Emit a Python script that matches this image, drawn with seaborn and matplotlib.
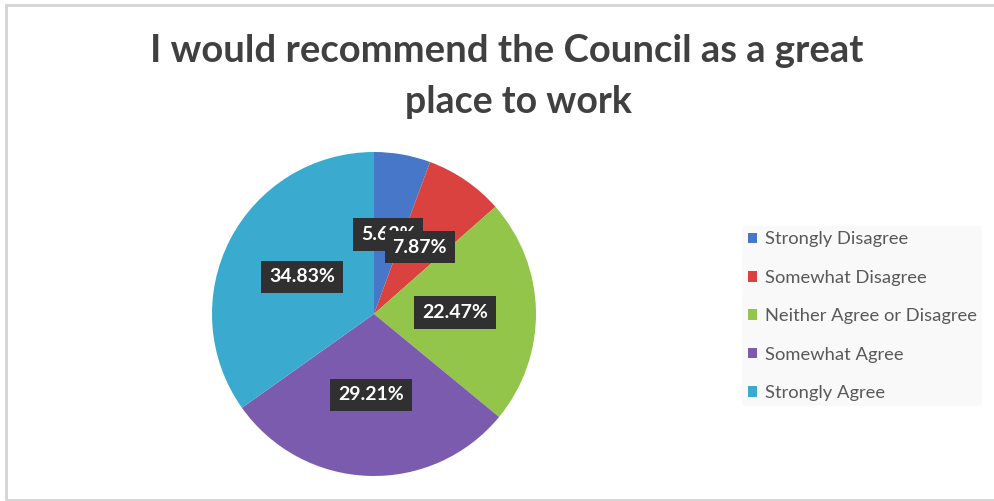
import matplotlib
matplotlib.use("Agg")
import matplotlib.pyplot as plt
from matplotlib.patches import Patch, Rectangle
import seaborn as sns

# Survey responses
categories = ["Strongly Disagree", "Somewhat Disagree", "Neither Agree or Disagree",
              "Somewhat Agree", "Strongly Agree"]
shares = [5.62, 7.87, 22.47, 29.21, 34.83]
slice_colors = ["#4677C8", "#D9423F", "#93C54B", "#7B5BAE", "#3AAACF"]
title_lines = ["I would recommend the Council as a great", "place to work"]

sns.set_theme(style="white")
plt.rcParams["font.family"] = ["Lato", "DejaVu Sans"]
palette = sns.color_palette(slice_colors)

W, H = 994, 501
fig = plt.figure(figsize=(W / 100, H / 100), dpi=100)
fig.patch.set_facecolor("white")

# light frame around the chart area (right side runs off the canvas)
frame = Rectangle((6 / W, 1 / H), 2.0, (H - 6) / H, transform=fig.transFigure,
                  fill=False, edgecolor="#d4d4d4", linewidth=2)
fig.add_artist(frame)

# title
fig.text(507 / W, 1 - 62 / H, title_lines[0], ha="center", va="baseline",
         fontsize=27.5, fontweight="bold", color="#404040")
fig.text(518 / W, 1 - 113 / H, title_lines[1], ha="center", va="baseline",
         fontsize=27, fontweight="bold", color="#404040")

# pie axes: centre (374, 314) px, radius 162 px
cx, cy, r = 374, 314, 162
ax = fig.add_axes([(cx - r) / W, (H - cy - r) / H, 2 * r / W, 2 * r / H])
wedges, texts, autotexts = ax.pie(
    shares, colors=palette, startangle=90, counterclock=False,
    autopct=lambda p: f"{p:.2f}%", pctdistance=0.5, radius=1,
    wedgeprops=dict(linewidth=0),
    textprops=dict(color="white", fontsize=14, fontweight="bold"),
)
for t in autotexts:
    t.set_bbox(dict(boxstyle="square,pad=0.4", facecolor="#303030", edgecolor="none"))
ax.set_xlim(-1, 1)
ax.set_ylim(-1, 1)
ax.axis("off")

# legend
handles = [Patch(facecolor=c, edgecolor="none") for c in palette]
leg = fig.legend(handles, categories, loc="upper left",
                 bbox_to_anchor=(742 / W, 1 - 226 / H), frameon=True,
                 fontsize=13.2, labelcolor="#595959", handlelength=0.5,
                 handleheight=0.5, handletextpad=0.45, labelspacing=1.22,
                 borderpad=0.3, borderaxespad=0)
leg.get_frame().set_facecolor("#f8f8f8")
leg.get_frame().set_edgecolor("none")

fig.savefig("out.png", dpi=100)
